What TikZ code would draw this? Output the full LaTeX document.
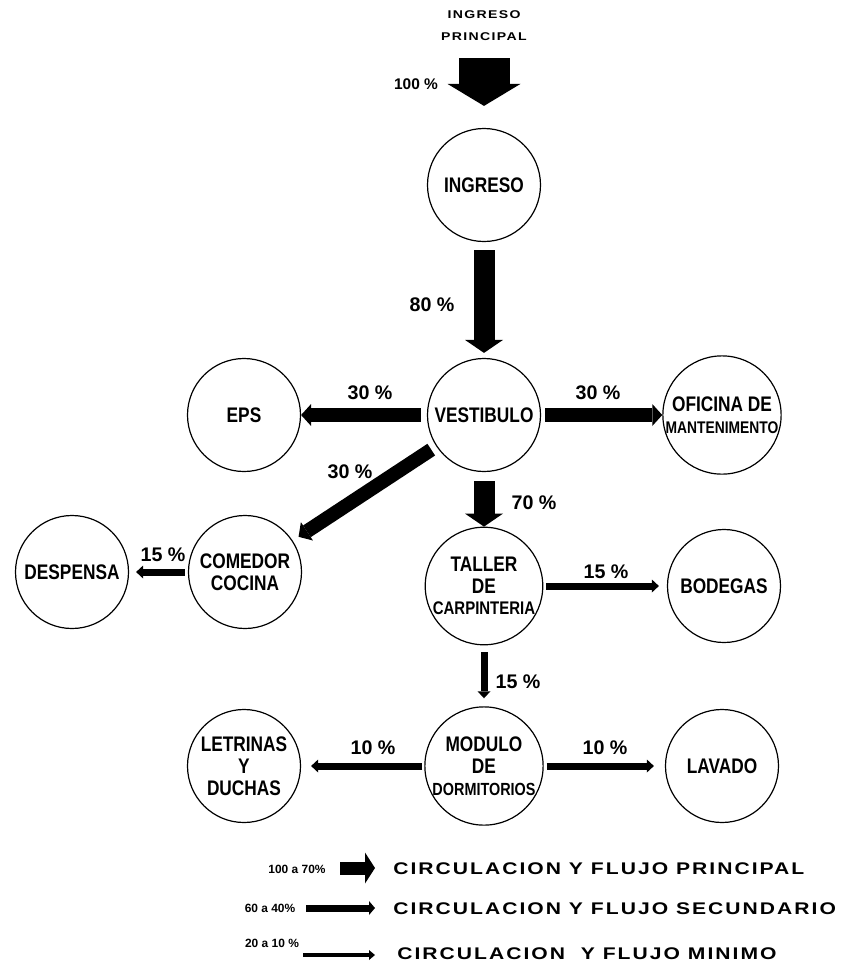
\documentclass[tikz,border=0pt]{standalone}
\usepackage{fontspec}
\setmainfont{Liberation Sans}
\newfontfamily\zonafont[FakeStretch=0.82]{Liberation Sans}
\newfontfamily\leyfont[FakeStretch=1.25,LetterSpace=12]{Liberation Sans}
\usetikzlibrary{arrows.meta}
\tikzset{
  zona/.style={circle, draw, line width=0.3mm, minimum size=28.25mm, inner sep=0pt, align=center,
    font=\zonafont\bfseries\fontsize{15}{15.5}\selectfont},
  pct/.style={inner sep=0pt, font=\bfseries\fontsize{14}{14}\selectfont},
  ley/.style={inner sep=0pt, anchor=west, font=\leyfont\bfseries\fontsize{12}{12}\selectfont},
  rango/.style={inner sep=0pt, font=\bfseries\fontsize{8.5}{8.5}\selectfont},
  principal/.style={line width=5.25mm, -{Triangle[width=9.5mm,length=3.25mm,line width=0pt]}},
  secundario/.style={line width=3.5mm, -{Triangle[width=5.5mm,length=2.5mm,line width=0pt]}},
  minimo/.style={line width=1.75mm, -{Triangle[width=3.25mm,length=1.75mm,line width=0pt]}},
}
\begin{document}
\begin{tikzpicture}[x=0.25mm,y=-0.25mm]
\useasboundingbox (0,0) rectangle (846,964);

\node[zona] (ingreso) at (484,185) {INGRESO};
\node[zona] (vestibulo) at (484,415) {VESTIBULO};
\node[zona] (eps) at (244,415) {EPS};
\node[zona] (oficina) at (722,415) {OFICINA DE\\{\fontsize{12}{15.5}\selectfont MANTENIMENTO}};
\node[zona] (despensa) at (72,572) {DESPENSA};
\node[zona] (comedor) at (245,572) {COMEDOR\\COCINA};
\node[zona] (taller) at (484,586) {TALLER\\DE\\{\fontsize{13}{15.5}\selectfont CARPINTERIA}};
\node[zona] (bodegas) at (724,586) {BODEGAS};
\node[zona] (modulo) at (484,766) {MODULO\\DE\\{\fontsize{12.5}{15.5}\selectfont DORMITORIOS}};
\node[zona] (letrinas) at (244,766) {LETRINAS\\Y\\DUCHAS};
\node[zona] (lavado) at (722,766) {LAVADO};

\node[align=center, inner sep=0pt, font=\leyfont\bfseries\fontsize{8}{15.5}\selectfont] (acceso) at (484,26) {INGRESO\\PRINCIPAL};
\coordinate (entrada) at (484,58);
\draw[line width=12.75mm, -{Triangle[width=18.25mm,length=5.5mm,line width=0pt]}, shorten >=5.5mm] (entrada) -- (ingreso);

\draw[principal, shorten <=2mm, shorten >=1.25mm] (ingreso) -- (vestibulo);
\draw[secundario, shorten <=1.5mm] (vestibulo) -- (eps);
\draw[secundario, shorten <=1mm] (vestibulo) -- (oficina);
\draw[secundario, shorten <=1.5mm, shorten >=1.75mm] (vestibulo) -- (comedor);
\draw[principal, shorten <=2.25mm] (vestibulo) -- (taller);
\draw[minimo, shorten <=0.75mm, shorten >=1.75mm] (comedor) -- (despensa);
\draw[minimo, shorten <=0.75mm, shorten >=2mm] (taller) -- (bodegas);
\draw[minimo, shorten <=1.75mm, shorten >=2mm] (taller) -- (modulo);
\draw[minimo, shorten <=0.5mm, shorten >=2.5mm] (modulo) -- (letrinas);
\draw[minimo, shorten <=0.75mm, shorten >=2.75mm] (modulo) -- (lavado);

\node[pct, font=\bfseries\fontsize{11}{11}\selectfont] (p100) at (416,84) {100 \%};
\node[pct] (p80) at (432,305) {80 \%};
\node[pct] (p30a) at (370,393) {30 \%};
\node[pct] (p30b) at (598,393) {30 \%};
\node[pct] (p30c) at (350,472) {30 \%};
\node[pct] (p70) at (534,503) {70 \%};
\node[pct] (p15a) at (163,555) {15 \%};
\node[pct] (p15b) at (606,572) {15 \%};
\node[pct] (p15c) at (518,682) {15 \%};
\node[pct] (p10a) at (373,748) {10 \%};
\node[pct] (p10b) at (605,748) {10 \%};

% leyenda
\coordinate (l1a) at (340,868);
\coordinate (l1b) at (375,868);
\coordinate (l2a) at (306,908);
\coordinate (l2b) at (375,908);
\coordinate (l3a) at (303,955);
\coordinate (l3b) at (375,955);
\draw[line width=3.25mm, -{Triangle[width=7.75mm,length=2.5mm,line width=0pt]}] (l1a) -- (l1b);
\draw[line width=1.75mm, -{Triangle[width=3.5mm,length=1.5mm,line width=0pt]}] (l2a) -- (l2b);
\draw[line width=1.1mm, -{Triangle[width=2.5mm,length=1.5mm,line width=0pt]}] (l3a) -- (l3b);
\node[rango] (r1) at (297,869) {100 a 70\%};
\node[rango] (r2) at (270,908) {60 a 40\%};
\node[rango] (r3) at (272,943) {20 a 10 \%};
\node[ley] (t1) at (393,869) {CIRCULACION Y FLUJO PRINCIPAL};
\node[ley] (t2) at (393,909) {CIRCULACION Y FLUJO SECUNDARIO};
\node[ley] (t3) at (397,954) {CIRCULACION\ \ Y FLUJO MINIMO};
\end{tikzpicture}
\end{document}
